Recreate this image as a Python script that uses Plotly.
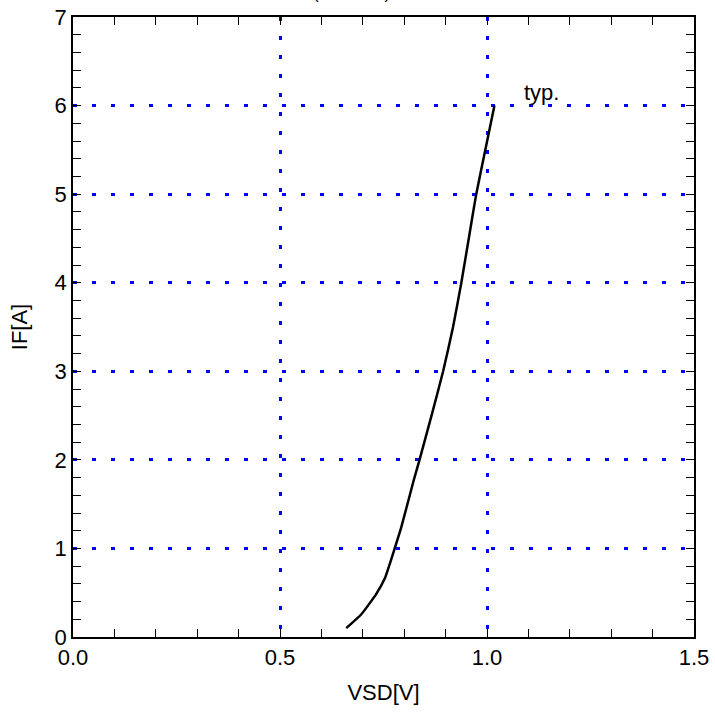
import plotly.graph_objects as go

# Forward characteristic (typ.)
vsd = [0.660, 0.697, 0.733, 0.753, 0.777, 0.793, 0.823, 0.837, 0.866, 0.894,
       0.918, 0.938, 0.956, 0.974, 0.996, 1.018]
i_f = [0.10, 0.26, 0.49, 0.66, 1.00, 1.24, 1.77, 2.00, 2.50, 3.00,
       3.50, 4.00, 4.50, 5.00, 5.50, 6.00]

x_ticks = [0.0, 0.5, 1.0, 1.5]
x_labels = ["0.0", "0.5", "1.0", "1.5"]
y_ticks = [0, 1, 2, 3, 4, 5, 6, 7]
y_labels = ["0", "1", "2", "3", "4", "5", "6", "7"]

FONT = "Liberation Sans, Arial, sans-serif"

fig = go.Figure()
fig.add_trace(go.Scatter(x=vsd, y=i_f, mode="lines",
                         line=dict(color="black", width=2.5, shape="spline", smoothing=0.5),
                         showlegend=False, hoverinfo="skip"))

fig.add_annotation(x=1.085, y=6.15, xref="x", yref="y", text="typ.",
                   showarrow=False, xanchor="left", yanchor="middle",
                   font=dict(family=FONT, size=22, color="black"))
fig.add_annotation(x=0.448, xref="paper", y=1, yref="paper", text="(Ta=25°C)",
                   showarrow=False, xanchor="center", yanchor="bottom",
                   yshift=12, font=dict(family=FONT, size=17, color="black"))

axis_common = dict(
    showline=True, linecolor="black", linewidth=1.5, mirror="ticks",
    ticks="inside", ticklen=8, tickwidth=1.3, tickcolor="black",
    showgrid=True, gridcolor="blue", gridwidth=3, griddash="4px,15px",
    zeroline=False, automargin=False,
    tickfont=dict(family=FONT, size=22, color="black"),
)

fig.update_xaxes(range=[0, 1.5], tickvals=x_ticks, ticktext=x_labels,
                 minor=dict(dtick=0.1, ticks="inside", ticklen=8, tickwidth=1.3,
                            tickcolor="black", showgrid=False),
                 title=dict(text="VSD[V]", font=dict(family=FONT, size=22, color="black"),
                            standoff=15),
                 **axis_common)
fig.update_yaxes(range=[0, 7], tickvals=y_ticks, ticktext=y_labels,
                 minor=dict(dtick=0.2, ticks="inside", ticklen=8, tickwidth=1.3,
                            tickcolor="black", showgrid=False),
                 title=dict(text="IF[A]", font=dict(family=FONT, size=22, color="black"),
                            standoff=21),
                 **axis_common)

fig.update_layout(width=715, height=713, margin=dict(l=73, r=21, t=17, b=76),
                  plot_bgcolor="white", paper_bgcolor="white")

fig.write_html("out.html", config={"displayModeBar": False},
               post_script="document.body.style.margin='0';document.body.style.overflow='hidden';")
